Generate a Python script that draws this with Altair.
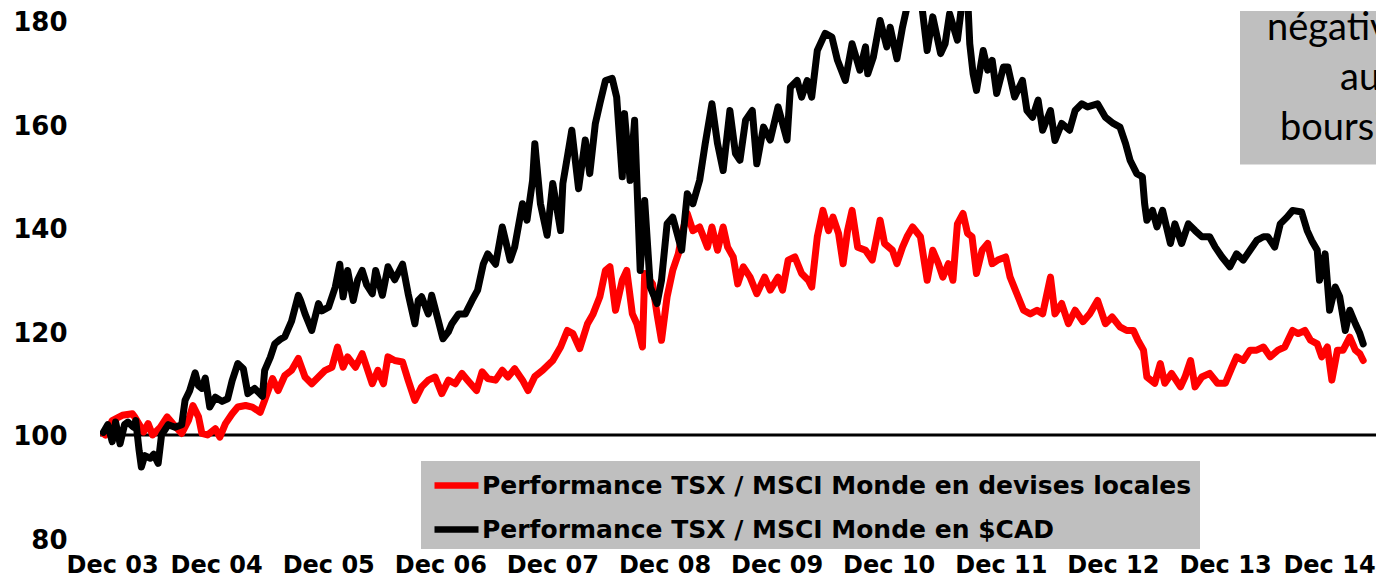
import json
import altair as alt
import pandas as pd

# ---- data ----
RED_LABEL = "Performance TSX / MSCI Monde en devises locales"
BLACK_LABEL = "Performance TSX / MSCI Monde en $CAD"

black_t = [2003.91, 2003.95, 2003.99, 2004.02, 2004.06, 2004.10, 2004.13, 2004.18, 2004.20, 2004.23,
           2004.25, 2004.28, 2004.33, 2004.36, 2004.40, 2004.43, 2004.49, 2004.55, 2004.61, 2004.64,
           2004.68, 2004.73, 2004.76, 2004.79, 2004.82, 2004.86, 2004.91, 2004.97, 2005.02, 2005.06,
           2005.11, 2005.16, 2005.20, 2005.26, 2005.33, 2005.35, 2005.40, 2005.44, 2005.49, 2005.53,
           2005.59, 2005.65, 2005.67, 2005.71, 2005.77, 2005.83, 2005.86, 2005.92, 2005.98, 2006.02,
           2006.05, 2006.09, 2006.14, 2006.18, 2006.22, 2006.26, 2006.31, 2006.34, 2006.40, 2006.45,
           2006.51, 2006.58, 2006.63, 2006.69, 2006.72, 2006.75, 2006.81, 2006.84, 2006.90, 2006.94,
           2006.99, 2007.02, 2007.08, 2007.14, 2007.20, 2007.25, 2007.30, 2007.34, 2007.41, 2007.47,
           2007.54, 2007.58, 2007.65, 2007.69, 2007.74, 2007.76, 2007.81, 2007.87, 2007.92, 2007.99,
           2008.01, 2008.05, 2008.09, 2008.15, 2008.21, 2008.25, 2008.30, 2008.34, 2008.39, 2008.45,
           2008.49, 2008.54, 2008.56, 2008.61, 2008.65, 2008.70, 2008.74, 2008.79, 2008.85, 2008.89,
           2008.94, 2008.99, 2009.07, 2009.12, 2009.17, 2009.23, 2009.28, 2009.34, 2009.39, 2009.44,
           2009.50, 2009.55, 2009.59, 2009.64, 2009.70, 2009.74, 2009.80, 2009.86, 2009.93, 2010.01,
           2010.04, 2010.10, 2010.14, 2010.19, 2010.23, 2010.28, 2010.35, 2010.41, 2010.46, 2010.53,
           2010.59, 2010.66, 2010.71, 2010.73, 2010.78, 2010.84, 2010.90, 2010.93, 2010.99, 2011.04,
           2011.08, 2011.13, 2011.21, 2011.26, 2011.31, 2011.38, 2011.42, 2011.46, 2011.53, 2011.57,
           2011.62, 2011.64, 2011.67, 2011.70, 2011.76, 2011.80, 2011.84, 2011.88, 2011.94, 2011.98,
           2012.04, 2012.11, 2012.15, 2012.20, 2012.25, 2012.29, 2012.36, 2012.40, 2012.46, 2012.53,
           2012.58, 2012.64, 2012.69, 2012.78, 2012.85, 2012.92, 2012.98, 2013.03, 2013.07, 2013.13,
           2013.18, 2013.20, 2013.22, 2013.27, 2013.31, 2013.36, 2013.43, 2013.47, 2013.53, 2013.59,
           2013.65, 2013.71, 2013.78, 2013.83, 2013.89, 2013.96, 2014.02, 2014.08, 2014.14, 2014.20,
           2014.26, 2014.30, 2014.36, 2014.41, 2014.47, 2014.52, 2014.60, 2014.65, 2014.69, 2014.74,
           2014.76, 2014.81, 2014.85, 2014.90, 2014.94, 2014.99, 2015.03, 2015.08, 2015.12, 2015.15]
black_v = [100.5, 102, 98.7, 102.5, 98.3, 102, 102.5, 101.5, 102.8, 97,
           93.8, 96, 95.5, 96.3, 94.5, 100, 102, 101.5, 102, 106.7,
           108.5, 112, 109.5, 109, 111, 105.4, 107.3, 106.5, 107, 110.5,
           113.8, 112.8, 108, 109, 107.5, 112.5, 115, 117.6, 118.5, 119,
           122, 127, 126, 123.4, 120.2, 125.4, 124, 124.7, 128.6, 133,
           126.7, 131.8, 126, 130, 131.8, 129, 127.3, 131.8, 127, 132.5,
           130, 133, 127.3, 121.5, 126, 126.7, 123.4, 127, 122, 118.6,
           120, 121.5, 123.4, 123.4, 126, 128, 133, 135, 133, 140.2,
           133.8, 136.3, 144.7, 141.5, 149.2, 156.3, 144.7, 138.6, 148.6, 139.5,
           148.6, 153.7, 158.9, 147.6, 157, 150.5, 160.2, 164, 168.5, 168.9,
           165.3, 149.9, 162.1, 149.2, 160.8, 131.8, 145.3, 128.6, 125.4, 129.9,
           140.8, 142.1, 135.7, 146.6, 144.7, 149.2, 156.3, 164, 156.3, 151.1,
           162.7, 154.4, 153.1, 160.8, 162.7, 152.4, 159.5, 157, 163.4, 157,
           167.2, 168.5, 165.3, 168.5, 165.3, 174.3, 177.6, 176.9, 172.4, 168.5,
           175.6, 170.5, 175, 169.8, 173, 180.1, 175, 178.8, 172.7, 178.8,
           182.7, 185, 183.4, 174.3, 180.8, 173.7, 175.6, 181.4, 176.3, 183.4,
           185, 175.6, 169.8, 166.6, 174.3, 170.5, 172.4, 166, 171.1, 171.1,
           165.3, 168.5, 162.7, 161.4, 164.7, 158.9, 162.7, 156.9, 160.2, 158.9,
           162.7, 164, 163.4, 164, 161.4, 160.2, 159.5, 156.3, 153.1, 150.5,
           149.9, 144.7, 141.5, 143.4, 140.2, 143.4, 137, 140.8, 137, 140.8,
           139.5, 138.3, 138.3, 136.3, 134.4, 132.5, 135, 133.8, 135.7, 137.6,
           138.3, 138.3, 136.3, 140.8, 142.1, 143.4, 143.1, 139.5, 137.6, 135.7,
           129.9, 135, 124.1, 128.6, 126.7, 120.2, 124.1, 121.5, 119.6, 117.6]

red_t = [2003.91, 2003.93, 2003.99, 2004.08, 2004.17, 2004.19, 2004.27, 2004.31, 2004.35, 2004.42,
         2004.48, 2004.53, 2004.61, 2004.67, 2004.71, 2004.76, 2004.79, 2004.84, 2004.91, 2004.95,
         2005.00, 2005.06, 2005.11, 2005.18, 2005.24, 2005.31, 2005.35, 2005.42, 2005.47, 2005.53,
         2005.59, 2005.65, 2005.71, 2005.77, 2005.83, 2005.89, 2005.95, 2006.00, 2006.05, 2006.09,
         2006.16, 2006.22, 2006.26, 2006.31, 2006.36, 2006.41, 2006.45, 2006.51, 2006.58, 2006.63,
         2006.69, 2006.75, 2006.81, 2006.87, 2006.93, 2006.99, 2007.05, 2007.11, 2007.16, 2007.24,
         2007.29, 2007.34, 2007.41, 2007.47, 2007.52, 2007.58, 2007.65, 2007.70, 2007.76, 2007.83,
         2007.92, 2007.99, 2008.05, 2008.10, 2008.16, 2008.23, 2008.28, 2008.34, 2008.39, 2008.43,
         2008.48, 2008.54, 2008.58, 2008.63, 2008.67, 2008.72, 2008.74, 2008.81, 2008.85, 2008.89,
         2008.94, 2008.99, 2009.04, 2009.08, 2009.12, 2009.17, 2009.23, 2009.30, 2009.34, 2009.39,
         2009.44, 2009.48, 2009.53, 2009.57, 2009.62, 2009.68, 2009.74, 2009.81, 2009.86, 2009.93,
         2009.97, 2010.02, 2010.08, 2010.14, 2010.20, 2010.23, 2010.28, 2010.33, 2010.38, 2010.42,
         2010.47, 2010.51, 2010.55, 2010.59, 2010.64, 2010.71, 2010.77, 2010.84, 2010.88, 2010.95,
         2010.99, 2011.04, 2011.08, 2011.13, 2011.20, 2011.26, 2011.31, 2011.36, 2011.40, 2011.45,
         2011.49, 2011.53, 2011.58, 2011.62, 2011.66, 2011.70, 2011.75, 2011.80, 2011.84, 2011.89,
         2011.96, 2012.00, 2012.06, 2012.12, 2012.18, 2012.24, 2012.29, 2012.36, 2012.40, 2012.46,
         2012.52, 2012.58, 2012.65, 2012.71, 2012.78, 2012.85, 2012.91, 2012.98, 2013.04, 2013.10,
         2013.14, 2013.19, 2013.22, 2013.29, 2013.34, 2013.38, 2013.44, 2013.52, 2013.56, 2013.61,
         2013.65, 2013.71, 2013.78, 2013.85, 2013.92, 2013.98, 2014.02, 2014.08, 2014.14, 2014.20,
         2014.26, 2014.32, 2014.39, 2014.45, 2014.52, 2014.57, 2014.63, 2014.68, 2014.74, 2014.78,
         2014.83, 2014.87, 2014.92, 2014.97, 2015.03, 2015.08, 2015.12, 2015.15]
red_v = [100.3, 100, 102.8, 103.8, 104.1, 103.5, 100.6, 102.2, 100, 101.5,
         103.5, 102.2, 100.3, 102.8, 105.7, 103.5, 100.3, 100, 101.2, 99.6,
         102.2, 104.1, 105.4, 105.7, 105.4, 104.4, 106.7, 110.9, 108.6, 111.5,
         112.5, 114.8, 111.2, 109.9, 111.2, 112.5, 113.1, 117, 113.1, 115.1,
         113.1, 115.7, 113.1, 109.9, 112.5, 109.9, 115.1, 114.4, 114.1, 110.6,
         106.7, 109.3, 110.6, 111.2, 108, 110.6, 109.9, 111.9, 110.6, 108.6,
         112.2, 110.9, 110.6, 112.5, 111.2, 112.8, 110.6, 108.6, 111.3, 112.5,
         114.4, 117, 120.2, 119.6, 116.7, 121.5, 123.4, 126.7, 131.8, 132.5,
         124.1, 129.9, 131.8, 123.4, 121.5, 117, 131.2, 129.2, 123.4, 118.3,
         126.7, 131.8, 135, 139.5, 142.8, 139.5, 140.2, 136.3, 140.2, 135.7,
         140.2, 136.3, 134.4, 129.2, 132.5, 130.5, 127.3, 130.5, 128, 130.5,
         128, 133.8, 134.4, 131.2, 129.9, 128.6, 138.3, 143.4, 139.5, 142.1,
         138.9, 133.1, 139.5, 143.4, 136.3, 135.7, 133.8, 141.5, 137, 135.7,
         133.1, 136.3, 138.3, 140.2, 138.3, 129.9, 135.7, 133.1, 130.5, 133.1,
         129.9, 140.8, 142.8, 139, 138.3, 131.2, 135.7, 137, 133.1, 133.8,
         134.4, 130.5, 127.3, 124.1, 123.4, 124.1, 123.4, 130.5, 123.4, 125.4,
         121.5, 124.1, 121.9, 123.4, 126, 121.5, 122.8, 120.9, 120.2, 120.2,
         118.3, 116.4, 111.2, 110, 113.8, 110, 111.9, 109.3, 111.2, 114.4,
         109.3, 111.2, 111.9, 110, 110, 113.1, 115.1, 114.4, 116.4, 116.4,
         117, 115.1, 116.4, 117, 120.2, 119.6, 120.2, 118.3, 117.6, 115.1,
         117, 110.6, 116.4, 116.4, 118.9, 116.4, 115.7, 114.4]

tick_years = [2003.917, 2004.917, 2005.917, 2006.917, 2007.917, 2008.917,
              2009.917, 2010.917, 2011.917, 2012.917, 2013.917, 2014.917]
tick_labels = ["Dec 03", "Dec 04", "Dec 05", "Dec 06", "Dec 07", "Dec 08",
               "Dec 09", "Dec 10", "Dec 11", "Dec 12", "Dec 13", "Dec 14"]
y_ticks = [80, 100, 120, 140, 160, 180]
note_lines = ["négative", "aux", "boursiers"]

# ---- tables ----
red_df = pd.DataFrame({"t": red_t, "v": red_v, "series": RED_LABEL})
black_df = pd.DataFrame({"t": black_t, "v": black_v, "series": BLACK_LABEL})
one = pd.DataFrame({"k": [0]})

W, H = 1276, 527.5
BOLD = "DejaVu Sans"

x_enc = alt.X(
    "t:Q",
    scale=alt.Scale(domain=[2003.881, 2015.264], nice=False, zero=False),
    axis=alt.Axis(
        values=tick_years,
        labelExpr=f"{json.dumps(tick_labels)}[round(datum.value - {tick_years[0]})]",
        labelFontSize=24, labelPadding=15, title=None,
        labelFlush=45, labelFlushOffset=38, labelOverlap=False, labelBound=False,
    ),
)
y_enc = alt.Y(
    "v:Q",
    scale=alt.Scale(domain=[80, 181.93], nice=False, zero=False),
    axis=alt.Axis(values=y_ticks, labelFontSize=26, labelPadding=33, title=None,
                  labelOverlap=False, labelFlush=False, labelOffset=2),
)
color_enc = alt.Color(
    "series:N",
    scale=alt.Scale(domain=[RED_LABEL, BLACK_LABEL], range=["#FF0000", "#000000"]),
    legend=alt.Legend(
        orient="none", legendX=331, legendY=449, title=None,
        symbolType="stroke", symbolSize=1936, symbolStrokeWidth=6.5,
        labelFont=BOLD, labelFontWeight="bold", labelFontSize=25, labelColor="black",
        labelOffset=0, rowPadding=5, padding=0, labelLimit=0,
    ),
)

legend_box = alt.Chart(one).mark_rect(color="#BFBFBF").encode(
    x=alt.value(321), x2=alt.value(1100), y=alt.value(450), y2=alt.value(538)
)
note_box = alt.Chart(one).mark_rect(color="#BFBFBF", clip=True).encode(
    x=alt.value(1140), x2=alt.value(W + 10), y=alt.value(-10), y2=alt.value(153.5)
)
rule100 = alt.Chart(one).mark_rule(color="black", strokeWidth=3).encode(y=alt.datum(100))

line_style = dict(strokeWidth=7, strokeCap="round", strokeJoin="round", clip=True)
red_line = alt.Chart(red_df).mark_line(**line_style).encode(x=x_enc, y=y_enc, color=color_enc)
black_line = alt.Chart(black_df).mark_line(**line_style).encode(x=x_enc, y=y_enc, color=color_enc)

note_pos = [(1167, 29.3), (1240, 79.3), (1180, 129.3)]
notes = [
    alt.Chart(one).mark_text(text=txt, font="Lato", fontSize=38, align="left",
                             baseline="alphabetic", color="black", clip=True)
    .encode(x=alt.value(px), y=alt.value(py))
    for txt, (px, py) in zip(note_lines, note_pos)
]

chart = alt.layer(legend_box, note_box, rule100, red_line, black_line, *notes).properties(
    width=W, height=H,
    padding={"left": 92, "top": 3, "right": 0, "bottom": 40.5},
    autosize=alt.AutoSizeParams(type="none"),
    background="white",
).configure_view(stroke=None).configure_axis(
    grid=False, domain=False, ticks=False, tickSize=0,
    labelFont=BOLD, labelFontWeight="bold", labelColor="black",
)

chart.save("out.html", embed_options={"renderer": "svg", "actions": False})
